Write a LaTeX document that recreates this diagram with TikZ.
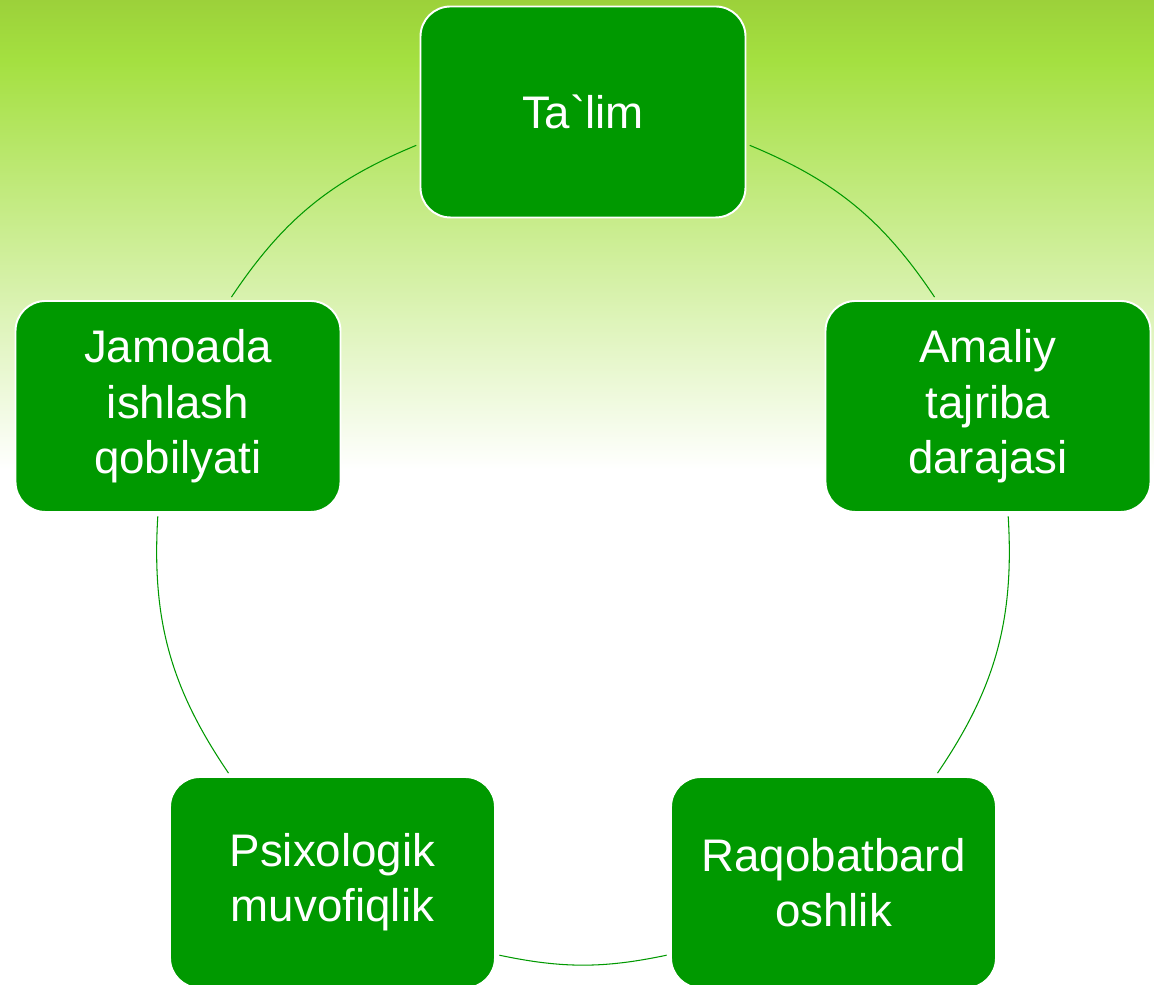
\documentclass[tikz,border=0pt]{standalone}
\usepackage{fontspec}
\setmainfont{Liberation Sans}
\usetikzlibrary{positioning}
\definecolor{boxgreen}{HTML}{009900}
\definecolor{bgtop}{HTML}{9CD13A}
\definecolor{bgmid}{HTML}{A4E040}

\begin{document}
\begin{tikzpicture}[
    box/.style={draw=white, line width=1.1pt, fill=boxgreen, rounded corners=0.6cm,
                minimum width=6.5cm, minimum height=4.22cm, align=center,
                text=white, font=\fontsize{26}{31.5}\selectfont},
    link/.style={draw=boxgreen, line width=0.6pt, shorten <=2pt, shorten >=2pt}]
  % Page and background
  \useasboundingbox (0,0) rectangle (23.08,19.7);
  \clip (0,0) rectangle (23.08,19.7);
  \fill[white] (0,0) rectangle (23.08,19.7);
  \shade[top color=bgtop, bottom color=bgmid] (0,18.5) rectangle (23.08,19.7);
  \shade[top color=bgmid, bottom color=white] (0,10.3) rectangle (23.08,18.5);

  % Cycle boxes
  \node[box] (talim)   at (11.66,17.46) {Ta\textasciigrave lim};
  \node[box] (amaliy)  at (19.76,11.57) {Amaliy\\tajriba\\darajasi};
  \node[box] (raqobat) at (16.67,2.05)  {Raqobatbard\\oshlik};
  \node[box] (psix)    at (6.65,2.05)   {Psixologik\\muvofiqlik};
  \node[box] (jamoa)   at (3.56,11.57)  {Jamoada\\ishlash\\qobilyati};

  % Connecting arcs
  \draw[link] ([yshift=-0.64cm]talim.east) to[bend left=16.9] ([xshift=-1.03cm]amaliy.north);
  \draw[link] ([xshift=0.40cm]amaliy.south) to[bend left=18.85] ([xshift=2.04cm]raqobat.north);
  \draw[link] ([yshift=-1.44cm]raqobat.west) to[bend left=11.9] ([yshift=-1.44cm]psix.east);
  \draw[link] ([xshift=-2.04cm]psix.north) to[bend left=18.85] ([xshift=-0.40cm]jamoa.south);
  \draw[link] ([xshift=1.03cm]jamoa.north) to[bend left=16.9] ([yshift=-0.64cm]talim.west);
\end{tikzpicture}
\end{document}
